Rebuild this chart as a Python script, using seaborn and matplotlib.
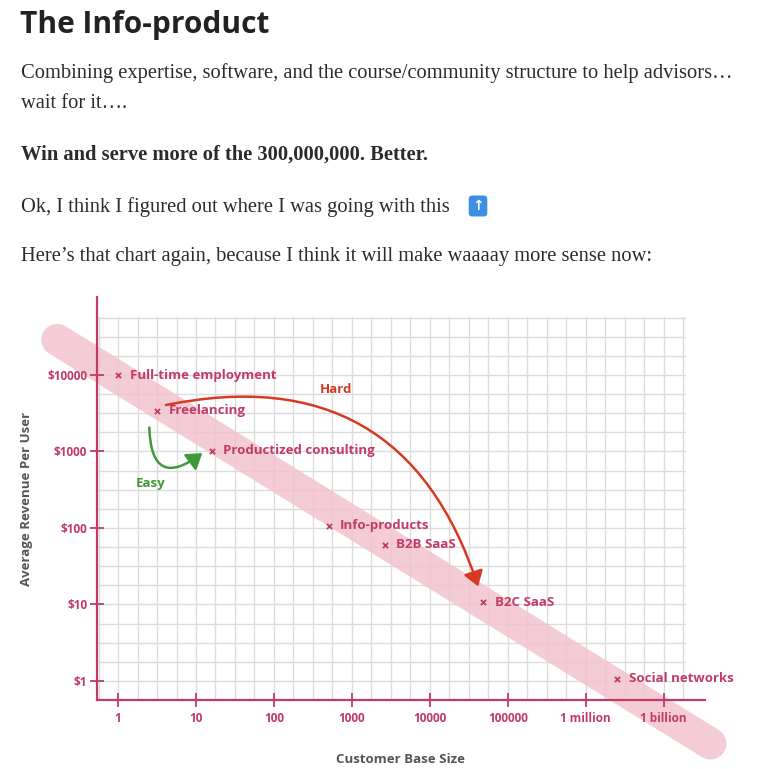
import matplotlib.pyplot as plt
import numpy as np
import seaborn as sns
from matplotlib.patches import FancyArrowPatch

W, H = 772, 769
PINK = "#c23a66"
BAND = "#f3c3cf"


def fx(px):
    return px / W


def fy(py):
    return 1 - py / H


def main():
    sns.set_theme(style="white")
    plt.rcParams["font.family"] = ["Open Sans", "DejaVu Sans"]
    fig = plt.figure(figsize=(W / 100, H / 100), dpi=100)

    # page text
    serif = ["Liberation Serif", "DejaVu Serif"]
    fig.text(fx(20), fy(25), "The Info-product", fontsize=21.5, fontweight="bold",
             color="#222222", va="center", family=["Open Sans", "DejaVu Sans"])
    body = [
        (73, "Combining expertise, software, and the course/community structure to help advisors…", "normal"),
        (103, "wait for it….", "normal"),
        (155, "Win and serve more of the 300,000,000. Better.", "bold"),
        (207, "Ok, I think I figured out where I was going with this", "normal"),
        (257, "Here’s that chart again, because I think it will make waaaay more sense now:", "normal"),
    ]
    for py, txt, wt in body:
        fig.text(fx(21), fy(py), txt, fontsize=14.8, fontweight=wt, color="#2b2b2b",
                 va="center", family=serif)
    fig.text(fx(478), fy(206), "↑", fontsize=10, color="white", fontweight="bold", ha="center", va="center",
             bbox=dict(boxstyle="round,pad=0.25", fc="#3d8fe0", ec="none"))

    # chart axes: log10 units, x 0..7, y 0..4
    rect = [fx(97), fy(700), fx(705 - 97), (700 - 297) / H]
    xlim, ylim = (-0.27, 7.53), (-0.25, 5.02)

    # background axes holding the grid and the pink band
    bg = fig.add_axes(rect, zorder=0)
    bg.set_xlim(*xlim)
    bg.set_ylim(*ylim)
    bg.axis("off")
    for gx in np.arange(-0.25, 7.3, 0.25):
        bg.plot([gx, gx], [-0.25, 4.76], color="#dcdcdc", lw=1)
    for gy in np.arange(0.0, 4.8, 0.25):
        bg.plot([-0.27, 7.27], [gy, gy], color="#dcdcdc", lw=1)
    bg.plot([-0.78, 7.6], [4.46, -0.82], color=BAND, lw=23, alpha=0.85,
            solid_capstyle="round", clip_on=False)

    ax = fig.add_axes(rect, zorder=1)
    ax.set_xlim(*xlim)
    ax.set_ylim(*ylim)

    points = {
        "Full-time employment": (0.0, 4.0),
        "Freelancing": (0.5, 3.53),
        "Productized consulting": (1.2, 3.01),
        "Info-products": (2.7, 2.03),
        "B2B SaaS": (3.42, 1.78),
        "B2C SaaS": (4.68, 1.03),
        "Social networks": (6.4, 0.03),
    }
    for name, (x, y) in points.items():
        ax.scatter(x, y, marker="x", s=14, color=PINK, linewidths=1.3, zorder=3, clip_on=False)
        ax.text(x + 0.15, y, name, color=PINK, fontsize=9.5, fontweight="bold",
                va="center", zorder=4, clip_on=False)

    # arrows
    hard = FancyArrowPatch((0.58, 3.6), (4.63, 1.2), connectionstyle="arc3,rad=-0.45",
                           arrowstyle="-|>,head_length=6,head_width=4", color="#d63a22",
                           lw=1.8, zorder=3, mutation_scale=1.5)
    ax.add_patch(hard)
    ax.text(2.8, 3.81, "Hard", color="#d63a22", fontsize=9.5, fontweight="bold", ha="center", va="center")
    easy = FancyArrowPatch((0.4, 3.35), (1.11, 3.0), connectionstyle="arc3,rad=1.0",
                           arrowstyle="-|>,head_length=6,head_width=4", color="#3f9a3a",
                           lw=1.8, zorder=3, mutation_scale=1.5)
    ax.add_patch(easy)
    ax.text(0.42, 2.58, "Easy", color="#3f9a3a", fontsize=9.5, fontweight="bold", ha="center", va="center")

    # axes styling
    for s in ["top", "right"]:
        ax.spines[s].set_visible(False)
    for s in ["left", "bottom"]:
        ax.spines[s].set_color(PINK)
        ax.spines[s].set_linewidth(1.6)
    ax.set_xticks(range(8))
    ax.set_xticklabels(["1", "10", "100", "1000", "10000", "100000", "1 million", "1 billion"])
    ax.set_yticks(range(5))
    ax.set_yticklabels(["$1", "$10", "$100", "$1000", "$10000"])
    ax.tick_params(axis="both", colors=PINK, direction="inout", length=10, width=1.3, labelsize=8.5,
                   bottom=True, left=True)
    for lab in ax.get_xticklabels() + ax.get_yticklabels():
        lab.set_fontweight("bold")
    ax.tick_params(axis="x", pad=4)
    ax.tick_params(axis="y", pad=2)
    ax.set_xlabel("Customer Base Size", color="#555555", fontsize=9.5, fontweight="bold", labelpad=20)
    ax.set_ylabel("Average Revenue Per User", color="#555555", fontsize=9.5, fontweight="bold", labelpad=10)
    ax.patch.set_alpha(0)

    fig.savefig("out.png", dpi=100)
    plt.close(fig)


if __name__ == "__main__":
    main()
